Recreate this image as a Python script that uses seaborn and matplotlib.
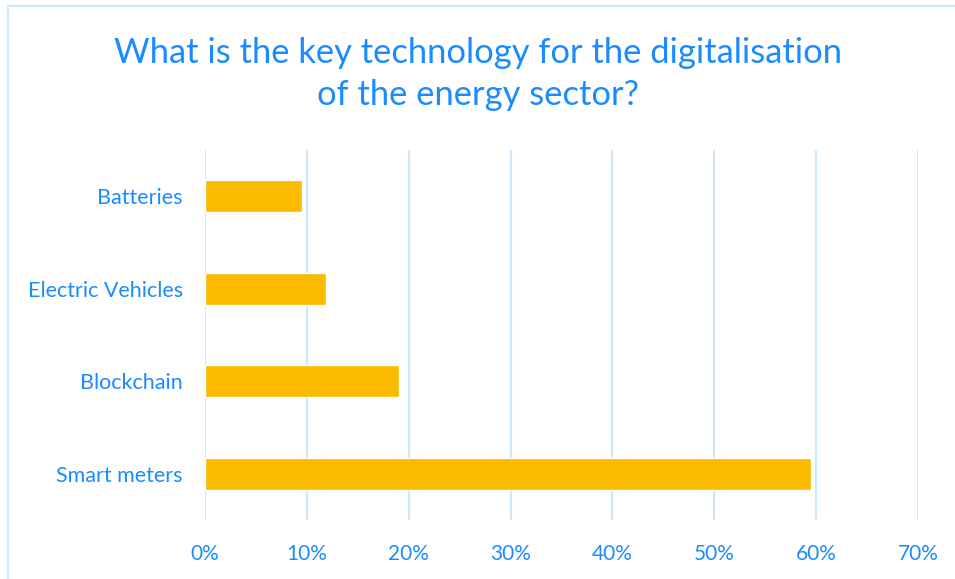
import matplotlib
matplotlib.use("Agg")
import matplotlib.pyplot as plt
import seaborn as sns
import pandas as pd
from matplotlib.patches import Rectangle
from matplotlib.ticker import PercentFormatter

categories = ["Batteries", "Electric Vehicles", "Blockchain", "Smart meters"]
values = [9.5, 11.9, 19.0, 59.5]
xticks = [0, 10, 20, 30, 40, 50, 60, 70]
title = "What is the key technology for the digitalisation\nof the energy sector?"

BLUE = "#1a8cff"
BAR = "#fbba00"
GRID = "#cfe6fb"

sns.set_theme(style="white")
plt.rcParams["font.family"] = ["Lato", "DejaVu Sans"]

df = pd.DataFrame({"tech": categories, "share": values})

fig = plt.figure(figsize=(9.55, 5.79), dpi=100)
ax = fig.add_axes([205/955, 1-520/579, (918-205)/955, (520-150)/579])

sns.barplot(data=df, x="share", y="tech", order=categories, color=BAR,
            width=0.35, saturation=1, ax=ax, orient="h")

ax.set_xlim(0, 70)
ax.set_xticks(xticks)
ax.xaxis.set_major_formatter(PercentFormatter(decimals=0))
ax.grid(axis="x", color=GRID, linewidth=1.5)
ax.set_axisbelow(True)
for s in ax.spines.values():
    s.set_visible(False)
ax.set_xlabel("")
ax.set_ylabel("")
ax.tick_params(axis="x", colors=BLUE, labelsize=15, length=0, pad=17)
ax.tick_params(axis="y", colors=BLUE, labelsize=15.5, length=0, pad=16)

fig.text(0.5, 1-74/579, title, ha="center", va="center", color=BLUE,
         fontsize=24.8, linespacing=1.35)

fig.patches.append(Rectangle((8/955, -0.05), 1.1, 1-6/579+0.05,
                             transform=fig.transFigure, fill=False,
                             edgecolor=GRID, linewidth=1.5))

fig.savefig("out.png", dpi=100)
